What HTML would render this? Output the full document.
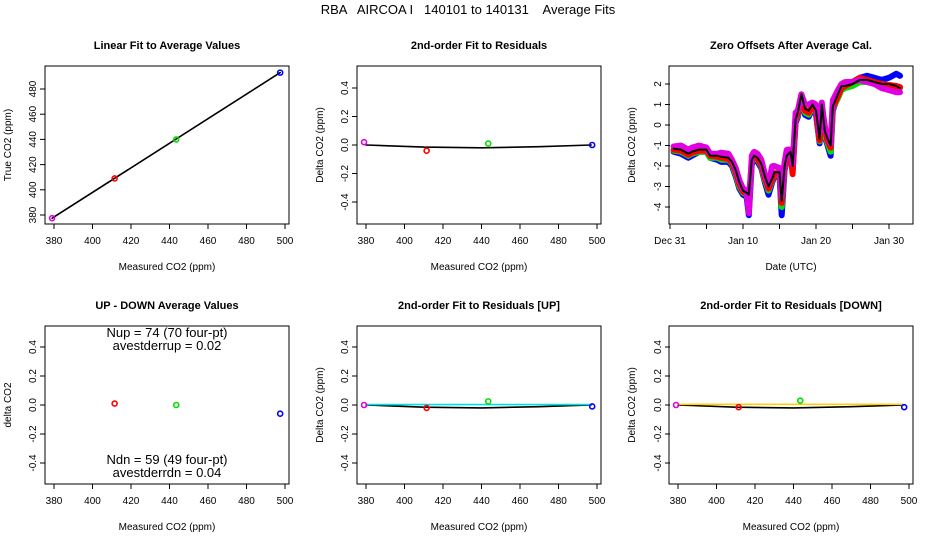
<!DOCTYPE html>
<html><head><meta charset="utf-8"><style>
html,body{margin:0;padding:0;background:#fff}
svg{display:block;font-family:"Liberation Sans",sans-serif}
</style></head><body>
<svg id="c" width="936" height="540" viewBox="0 0 936 540">
<text x="468" y="14" font-size="13" text-anchor="middle" style="white-space:pre" xml:space="preserve">RBA   AIRCOA I   140101 to 140131    Average Fits</text>
</svg>
<script>
// ---- data ----
const stdNames = ['magenta','red','green','blue'];
const stdMeasured = [379, 411.5, 443.5, 497.5];
const stdTrue = [377.5, 409, 440, 493];
const stdResid = [0.02, -0.04, 0.01, 0.0];
const stdColors = ['#e000e0','#ff0000','#00e000','#0000ff'];
const fitLineX = [379, 497.5];
const fitLineY = [377.5, 493];
const residFitX = [380, 410, 440, 470, 497];
const residFitY = [0.0, -0.015, -0.02, -0.012, 0.0];
const updnX = [411.5, 443.5, 497.5];
const updnY = [0.01, 0.0, -0.06];
const updnColors = ['#ff0000','#00e000','#0000ff'];
const upResidX = [379, 411.5, 443.5, 497.5];
const upResidY = [0.0, -0.02, 0.025, -0.01];
const dnResidX = [379, 411.5, 443.5, 497.5];
const dnResidY = [0.0, -0.015, 0.03, -0.015];
const upFitY = [0.003, 0.003, 0.003, 0.003, 0.003];
const dnFitY = [0.005, 0.005, 0.005, 0.005, 0.005];
const days = [0.5,1.5,2.5,3,4,5,5.5,6.5,7,8,8.5,9,9.5,10,10.5,10.8,11.2,11.5,12,12.5,13,13.5,14,14.3,15,15.3,15.7,16,16.5,16.8,17.2,17.5,18,18.5,19,19.5,20,20.5,20.8,21.2,21.5,22,22.3,23,23.5,24,25,26,27,28,29,30,31,31.5];
const offsetLine = [-1.15,-1.2,-1.4,-1.3,-1.2,-1.2,-1.5,-1.5,-1.55,-1.6,-1.8,-2.2,-2.8,-3.2,-3.3,-3.4,-1.7,-1.5,-1.6,-1.9,-2.5,-3.0,-2.6,-2.3,-2.3,-3.7,-2.0,-1.5,-1.3,-2.0,0.3,0.6,1.5,0.8,0.7,1.0,0.7,-0.7,1.0,-0.3,-0.6,-1.0,0.9,1.5,1.9,1.9,2.0,2.2,2.2,2.1,2.0,2.0,1.9,1.8];
const offsetBlue = [-1.3,-1.4,-1.6,-1.5,-1.3,-1.3,-1.6,-1.7,-1.8,-1.8,-2.0,-2.5,-3.1,-3.4,-3.5,-4.4,-1.9,-1.7,-1.8,-2.1,-2.8,-3.4,-2.8,-2.5,-2.5,-4.4,-2.2,-1.7,-1.5,-2.2,0.1,0.4,1.3,0.5,0.4,0.8,0.5,-0.9,0.8,-0.6,-0.9,-1.5,0.7,1.4,1.9,2.0,2.1,2.3,2.4,2.3,2.2,2.3,2.5,2.4];
const offsetGreen = [-1.25,-1.3,-1.5,-1.4,-1.3,-1.3,-1.6,-1.6,-1.7,-1.7,-1.9,-2.4,-3.0,-3.3,-3.4,-4.0,-1.8,-1.6,-1.7,-2.0,-2.7,-3.2,-2.7,-2.4,-2.4,-4.0,-2.1,-1.6,-1.4,-2.1,0.2,0.5,1.4,0.6,0.5,0.9,0.6,-0.8,0.9,-0.5,-0.8,-1.3,0.8,1.3,1.7,1.8,1.9,2.1,2.1,2.0,1.9,1.9,1.8,1.8];
const offsetRed = [-1.2,-1.25,-1.45,-1.35,-1.25,-1.25,-1.5,-1.55,-1.6,-1.65,-1.85,-2.3,-2.9,-3.25,-3.35,-3.7,-1.75,-1.55,-1.65,-1.95,-2.6,-3.1,-2.65,-2.35,-2.35,-3.8,-2.05,-1.55,-1.35,-2.4,0.25,0.55,1.45,0.7,0.6,0.95,0.65,-0.75,0.95,-0.05,-0.7,-1.1,0.85,1.4,1.8,1.9,2.1,2.3,2.2,2.1,2.0,1.95,1.9,1.85];
const offsetMagenta = [-1.05,-1.0,-1.2,-1.1,-1.0,-1.1,-1.4,-1.4,-1.35,-1.4,-1.7,-2.1,-2.7,-3.1,-3.2,-4.3,-1.5,-1.3,-1.4,-1.7,-2.4,-2.9,-2.0,-2.0,-2.1,-3.5,-1.8,-1.2,-1.2,-1.9,0.6,0.7,1.5,1.0,1.0,1.1,1.0,-0.4,1.1,-0.2,-0.4,-0.9,1.2,1.7,2.0,2.1,2.1,2.2,2.1,2.0,1.8,1.7,1.6,1.6];
const xTicks = [380,400,420,440,460,480,500];
const p1YTicks = [380,400,420,440,460,480];
const residYTicks = [-0.4,-0.2,0,0.2,0.4];
const dayTicks = [0,5,10,15,20,25,30];
const dayLabels = ['Dec 31','','Jan 10','','Jan 20','','Jan 30'];
const p3YTicks = [-4,-3,-2,-1,0,1,2];

const NS='http://www.w3.org/2000/svg';
const svg=document.getElementById('c');
function mk(tag,attrs,parent){const e=document.createElementNS(NS,tag);for(const k in attrs)e.setAttribute(k,attrs[k]);(parent||svg).appendChild(e);return e;}
function lin(d0,d1,r0,r1){return v=>r0+(v-d0)*(r1-r0)/(d1-d0);}

function panel(name,ox,oy,title,xlab,ylab){
  const g=mk('g',{});
  
  
  const box=mk('rect',{x:45+ox,y:66+oy,width:244,height:158,fill:'none',stroke:'#000','stroke-width':1},g);
  
  
  const t=mk('text',{x:167+ox,y:49+oy,'font-size':11,'font-weight':'bold','text-anchor':'middle'},g);t.textContent=title;
  
  
  const xl=mk('text',{x:167+ox,y:270+oy,'font-size':10,'text-anchor':'middle'},g);xl.textContent=xlab;
  
  
  const yl=mk('text',{x:0,y:0,'font-size':10,'text-anchor':'middle',transform:`translate(${11+ox},${145+oy}) rotate(-90)`},g);yl.textContent=ylab;
  
  
  return g;
}
function xAxis(g,ticks,labels,sx,oy){
  ticks.forEach((v,i)=>{const x=sx(v);
    mk('line',{x1:x,x2:x,y1:224+oy,y2:229+oy,stroke:'#000'},g);
    const t=mk('text',{x:x,y:244+oy,'font-size':10,'text-anchor':'middle'},g);t.textContent=labels[i];
    
    
  });
}
function yAxis(g,ticks,sy,ox,fmt){
  ticks.forEach(v=>{const y=sy(v);
    mk('line',{x1:40+ox,x2:45+ox,y1:y,y2:y,stroke:'#000'},g);
    const t=mk('text',{x:0,y:0,'font-size':10,'text-anchor':'middle',transform:`translate(${36+ox},${y}) rotate(-90)`},g);t.textContent=fmt(v);
    
    
  });
}
function pt(g,x,y,c,name){const e=mk('circle',{cx:x,cy:y,r:2.5,fill:'none',stroke:c,'stroke-width':1.6},g);
  
  }
function poly(g,xs,ys,sx,sy,c,w,name,dash){const d=xs.map((v,i)=>sx(v).toFixed(1)+','+sy(ys[i]).toFixed(1)).join(' ');
  const e=mk('polyline',{points:d,fill:'none',stroke:c,'stroke-width':w,'stroke-linejoin':'round','stroke-linecap':'round'},g);
  if(dash)e.setAttribute('stroke-dasharray',dash);
  
  }
const f1=v=>v.toFixed(1);
const xLabs=xTicks.map(String);

// Panel 1
{const ox=0,oy=0;const g=panel('linear-fit-panel',ox,oy,'Linear Fit to Average Values','Measured CO2 (ppm)','True CO2 (ppm)');
 const sx=lin(380,500,54+ox,285+ox),sy=lin(380,480,215+oy,89+oy);
 xAxis(g,xTicks,xLabs,sx,oy);yAxis(g,p1YTicks,sy,ox,String);
 poly(g,fitLineX,fitLineY,sx,sy,'#000',1.6,'fit-line');
 stdMeasured.forEach((v,i)=>pt(g,sx(v),sy(stdTrue[i]),stdColors[i],'point-'+stdNames[i]));}
// Panel 2
{const ox=312,oy=0;const g=panel('residual-fit-panel',ox,oy,'2nd-order Fit to Residuals','Measured CO2 (ppm)','Delta CO2 (ppm)');
 const sx=lin(380,500,54+ox,285+ox),sy=lin(0,0.4,145+oy,88+oy);
 xAxis(g,xTicks,xLabs,sx,oy);yAxis(g,residYTicks,sy,ox,f1);
 poly(g,residFitX,residFitY,sx,sy,'#000',1.6,'residual-fit-curve');
 stdMeasured.forEach((v,i)=>pt(g,sx(v),sy(stdResid[i]),stdColors[i],'residual-'+stdNames[i]));}
// Panel 3
{const ox=624,oy=0;const g=panel('zero-offsets-panel',ox,oy,'Zero Offsets After Average Cal.','Date (UTC)','Delta CO2 (ppm)');
 const sx=lin(0,10,670,743),sy=lin(-4,2,207,84);
 xAxis(g,dayTicks,dayLabels,sx,oy);yAxis(g,p3YTicks,sy,ox+1,String);
 poly(g,days,offsetBlue,sx,sy,'#0000ff',6,'series-blue');
 poly(g,days,offsetGreen,sx,sy,'#00e000',6,'series-green');
 poly(g,days,offsetRed,sx,sy,'#ff0000',6,'series-red');
 poly(g,days,offsetMagenta,sx,sy,'#e000e0',6,'series-magenta','3 1');
 poly(g,days,offsetLine,sx,sy,'#000',2,'offset-mean-line');}
// Panel 4
{const ox=0,oy=260;const g=panel('up-down-panel',ox,oy,'UP - DOWN Average Values','Measured CO2 (ppm)','delta CO2');
 const sx=lin(380,500,54+ox,285+ox),sy=lin(0,0.4,145+oy,87+oy);
 xAxis(g,xTicks,xLabs,sx,oy);yAxis(g,residYTicks,sy,ox,f1);
 updnX.forEach((v,i)=>pt(g,sx(v),sy(updnY[i]),updnColors[i],'updown-point'));
 [['Nup = 74 (70 four-pt)',337],['avestderrup =  0.02',350],['Ndn = 59 (49 four-pt)',464],['avestderrdn =  0.04',477]].forEach(a=>{
  const t=mk('text',{x:167,y:a[1],'font-size':13,'text-anchor':'middle'},g);t.textContent=a[0];
  
  });}
// Panel 5
{const ox=312,oy=260;const g=panel('residual-up-panel',ox,oy,'2nd-order Fit to Residuals [UP]','Measured CO2 (ppm)','Delta CO2 (ppm)');
 const sx=lin(380,500,54+ox,285+ox),sy=lin(0,0.4,145+oy,87+oy);
 xAxis(g,xTicks,xLabs,sx,oy);yAxis(g,residYTicks,sy,ox,f1);
 poly(g,residFitX,residFitY,sx,sy,'#000',1.6,'residual-fit-curve');
 poly(g,residFitX,upFitY,sx,sy,'#00e0e0',1.6,'up-fit-curve');
 upResidX.forEach((v,i)=>pt(g,sx(v),sy(upResidY[i]),stdColors[i],'up-residual-point'));}
// Panel 6
{const ox=624,oy=260;const g=panel('residual-down-panel',ox,oy,'2nd-order Fit to Residuals [DOWN]','Measured CO2 (ppm)','Delta CO2 (ppm)');
 const sx=lin(380,500,54+ox,285+ox),sy=lin(0,0.4,145+oy,87+oy);
 xAxis(g,xTicks,xLabs,sx,oy);yAxis(g,residYTicks,sy,ox+1,f1);
 poly(g,residFitX,residFitY,sx,sy,'#000',1.6,'residual-fit-curve');
 poly(g,residFitX,dnFitY,sx,sy,'#ffd000',1.6,'down-fit-curve','2 1');
 dnResidX.forEach((v,i)=>pt(g,sx(v),sy(dnResidY[i]),stdColors[i],'down-residual-point'));}
</script>
</body></html>
